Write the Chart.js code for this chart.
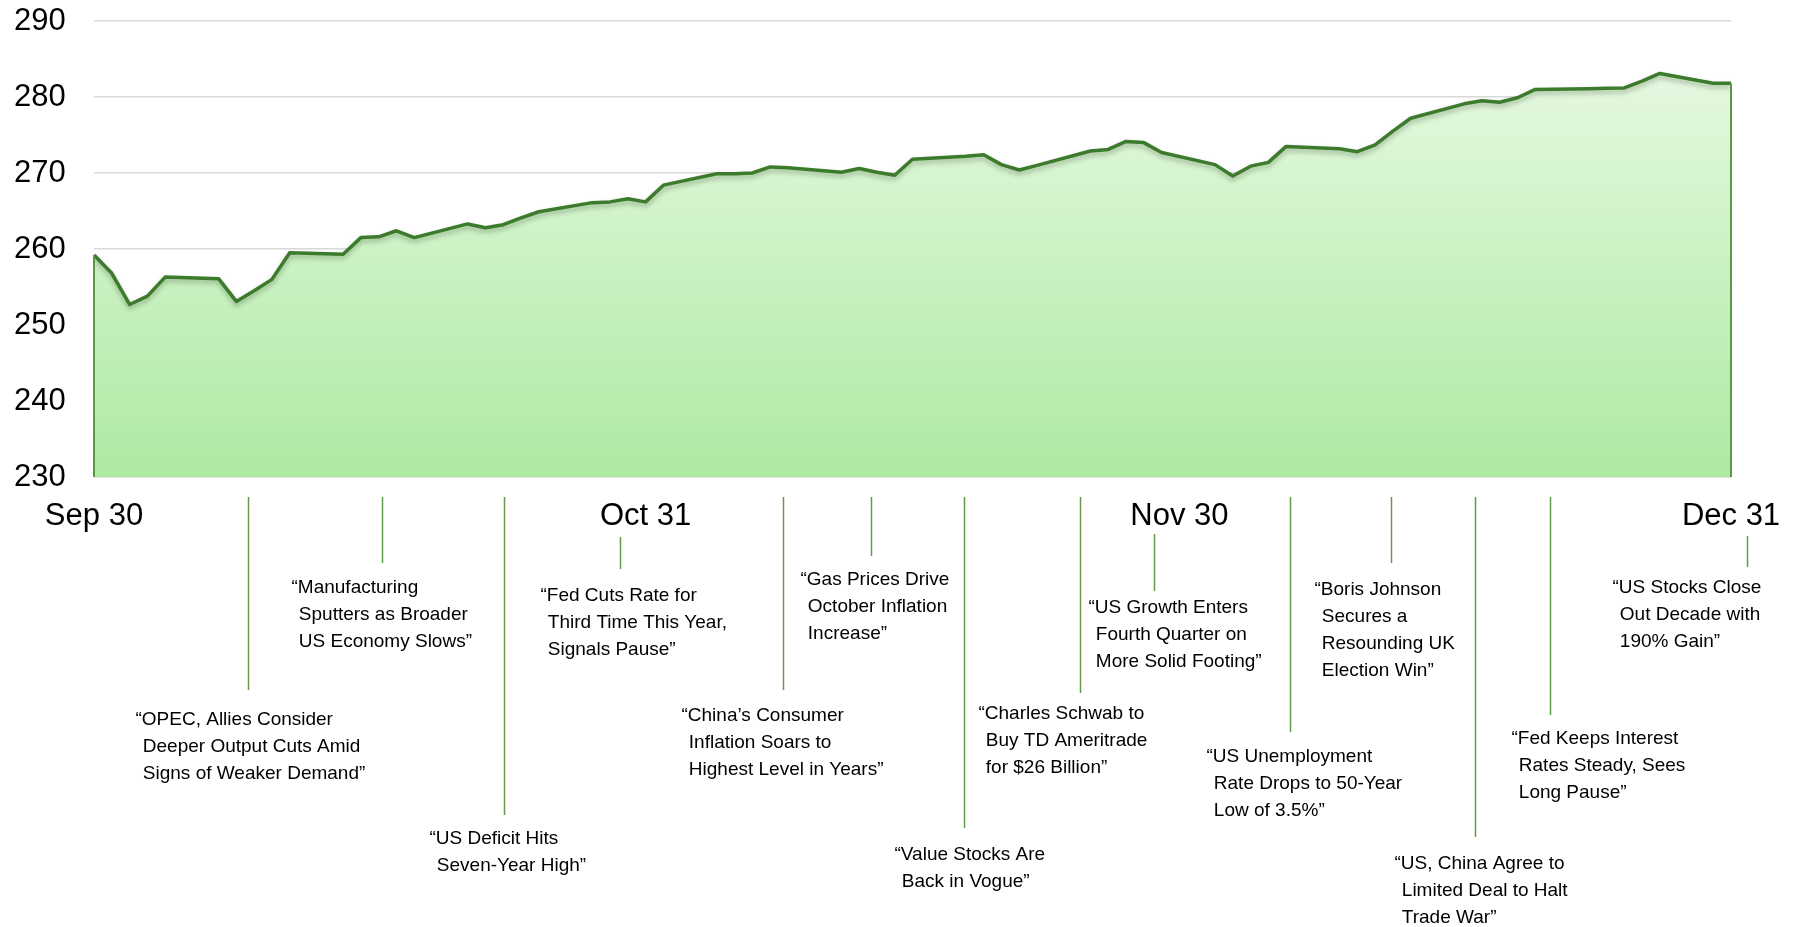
<!DOCTYPE html>
<html>
<head>
<meta charset="utf-8">
<title>Q4 2019 headlines</title>
<script src="https://cdn.jsdelivr.net/npm/chart.js@4.4.1/dist/chart.umd.min.js"></script>
<style>
  html, body { margin: 0; padding: 0; background: #fff; }
  #chart { display: block; }
</style>
</head>
<body>
<canvas id="chart" width="1796" height="927"></canvas>
<script>
// * daily closes, Sep 30 - Dec 31 2019 (weekdays)
const dates = [
  "2019-09-30",
  "2019-10-01", "2019-10-02", "2019-10-03", "2019-10-04", "2019-10-07", "2019-10-08",
  "2019-10-09", "2019-10-10", "2019-10-11", "2019-10-14", "2019-10-15", "2019-10-16",
  "2019-10-17", "2019-10-18", "2019-10-21", "2019-10-22", "2019-10-23", "2019-10-24",
  "2019-10-25", "2019-10-28", "2019-10-29", "2019-10-30", "2019-10-31",
  "2019-11-01", "2019-11-04", "2019-11-05", "2019-11-06", "2019-11-07", "2019-11-08",
  "2019-11-11", "2019-11-12", "2019-11-13", "2019-11-14", "2019-11-15", "2019-11-18",
  "2019-11-19", "2019-11-20", "2019-11-21", "2019-11-22", "2019-11-25", "2019-11-26",
  "2019-11-27", "2019-11-28", "2019-11-29",
  "2019-12-02", "2019-12-03", "2019-12-04", "2019-12-05", "2019-12-06", "2019-12-09",
  "2019-12-10", "2019-12-11", "2019-12-12", "2019-12-13", "2019-12-16", "2019-12-17",
  "2019-12-18", "2019-12-19", "2019-12-20", "2019-12-23", "2019-12-24", "2019-12-25",
  "2019-12-26", "2019-12-27", "2019-12-30", "2019-12-31",
];
const closes = [
  259.2,
  256.8, 252.7, 253.8, 256.3, 256.1, 253.1,
  254.5, 256.0, 259.5, 259.3, 261.5, 261.6,
  262.4, 261.5, 263.3, 262.8, 263.2, 264.1,
  264.9, 266.1, 266.2, 266.6, 266.2,
  268.4, 269.9, 269.9, 270.0, 270.8, 270.7,
  270.1, 270.6, 270.1, 269.7, 271.8, 272.2,
  272.4, 271.1, 270.4, 271.0, 272.9, 273.1,
  274.15, 274.0, 272.7,
  271.1, 269.6, 270.9, 271.4, 273.5, 273.2,
  272.8, 273.7, 275.5, 277.2, 279.1, 279.5,
  279.3, 279.9, 281.0, 281.1, 281.15, 281.2,
  282.1, 283.1, 281.8, 281.8,
];
const tickDates = ["2019-09-30", "2019-10-31", "2019-11-30", "2019-12-31"];
const tickLabels = ["Sep 30", "Oct 31", "Nov 30", "Dec 31"];
const yMin = 230;
const yMax = 290;
const yStep = 10;

// ? headlines, one entry per callout
const headlines = [
  ["\u201cOPEC, Allies Consider", "Deeper Output Cuts Amid", "Signs of Weaker Demand\u201d"],
  ["\u201cManufacturing", "Sputters as Broader", "US Economy Slows\u201d"],
  ["\u201cUS Deficit Hits", "Seven-Year High\u201d"],
  ["\u201cFed Cuts Rate for", "Third Time This Year,", "Signals Pause\u201d"],
  ["\u201cChina\u2019s Consumer", "Inflation Soars to", "Highest Level in Years\u201d"],
  ["\u201cGas Prices Drive", "October Inflation", "Increase\u201d"],
  ["\u201cValue Stocks Are", "Back in Vogue\u201d"],
  ["\u201cCharles Schwab to", "Buy TD Ameritrade", "for $26 Billion\u201d"],
  ["\u201cUS Growth Enters", "Fourth Quarter on", "More Solid Footing\u201d"],
  ["\u201cUS Unemployment", "Rate Drops to 50-Year", "Low of 3.5%\u201d"],
  ["\u201cBoris Johnson", "Secures a", "Resounding UK", "Election Win\u201d"],
  ["\u201cUS, China Agree to", "Limited Deal to Halt", "Trade War\u201d"],
  ["\u201cFed Keeps Interest", "Rates Steady, Sees", "Long Pause\u201d"],
  ["\u201cUS Stocks Close", "Out Decade with", "190% Gain\u201d"],
];

// layout of the callouts: x in days after Sep 30, leader line top/bottom, first text line, text offset
const callouts = [
  { day: 8.67, top: 497, bottom: 690, textY: 720, dx: -113 },
  { day: 16.18, top: 497, bottom: 563, textY: 588, dx: -91 },
  { day: 23.06, top: 497, bottom: 815, textY: 839, dx: -75 },
  { day: 29.56, top: 537, bottom: 569, textY: 596, dx: -80 },
  { day: 38.7, top: 497, bottom: 690, textY: 716, dx: -102 },
  { day: 43.68, top: 497, bottom: 556, textY: 580, dx: -71 },
  { day: 48.9, top: 497, bottom: 828, textY: 855, dx: -70 },
  { day: 55.4, top: 497, bottom: 693, textY: 714, dx: -102 },
  { day: 59.6, top: 534, bottom: 591, textY: 608, dx: -66 },
  { day: 67.2, top: 497, bottom: 732, textY: 757, dx: -84 },
  { day: 72.9, top: 497, bottom: 563, textY: 590, dx: -77 },
  { day: 77.6, top: 497, bottom: 837, textY: 864, dx: -81 },
  { day: 81.8, top: 497, bottom: 715, textY: 739, dx: -39 },
  { day: 92.9, top: 536, bottom: 567, textY: 588, dx: -135 },
];

const FONT = "'Liberation Sans', Arial, sans-serif";
const dayMs = 86400000;
const startMs = Date.parse(dates[0]);
const toDay = (d) => Math.round((Date.parse(d) - startMs) / dayMs);

const points = dates.map((d, i) => ({ x: toDay(d), y: closes[i] }));
const tickDays = tickDates.map(toDay);

// ? shadow under the line only
const lineShadow = {
  id: "lineShadow",
  beforeDatasetDraw(chart) {
    const c = chart.ctx;
    c.save();
    c.shadowColor = "rgba(40, 60, 30, 0.35)";
    c.shadowBlur = 5;
    c.shadowOffsetY = 3;
  },
  afterDatasetDraw(chart) {
    chart.ctx.restore();
  },
};

const edges = {
  id: "edges",
  afterDatasetsDraw(chart) {
    const c = chart.ctx;
    const xs = chart.scales.x;
    const ys = chart.scales.y;
    const base = ys.getPixelForValue(yMin);
    c.save();
    c.strokeStyle = "#5a9a45";
    c.lineWidth = 2;
    [points[0], points[points.length - 1]].forEach((p) => {
      const px = Math.round(xs.getPixelForValue(p.x));
      c.beginPath();
      c.moveTo(px, ys.getPixelForValue(p.y));
      c.lineTo(px, base);
      c.stroke();
    });
    c.restore();
  },
};

const headlineCallouts = {
  id: "headlineCallouts",
  afterDraw(chart) {
    const c = chart.ctx;
    const xs = chart.scales.x;
    c.save();
    c.font = "19px " + FONT;
    c.fillStyle = "#000";
    c.textBaseline = "middle";
    c.textAlign = "left";
    const indent = c.measureText("\u201c").width + 1;
    callouts.forEach((co, i) => {
      const px = Math.round(xs.getPixelForValue(co.day)) + 0.5;
      c.strokeStyle = "#5d9c48";
      c.lineWidth = 1.5;
      c.beginPath();
      c.moveTo(px, co.top);
      c.lineTo(px, co.bottom);
      c.stroke();
      headlines[i].forEach((t, k) => {
        c.fillText(t, px + co.dx + (k > 0 ? indent : 0), co.textY + k * 26.8);
      });
    });
    c.restore();
  },
};

const canvas = document.getElementById("chart");
const chart = new Chart(canvas.getContext("2d"), {
  type: "line",
  data: {
    datasets: [
      {
        data: points,
        borderColor: "#3b7b2b",
        borderWidth: 3.5,
        borderJoinStyle: "round",
        pointRadius: 0,
        tension: 0,
        fill: "start",
        backgroundColor: (ctx) => {
          const area = ctx.chart.chartArea;
          if (!area) return "#c8f0c0";
          const g = ctx.chart.ctx.createLinearGradient(0, area.top, 0, area.bottom);
          g.addColorStop(0, "#ecfae8");
          g.addColorStop(1, "#adeaa2");
          return g;
        },
      },
    ],
  },
  options: {
    responsive: false,
    animation: false,
    devicePixelRatio: 1,
    layout: { padding: { top: 21, right: 65, left: 14, bottom: 0 } },
    plugins: {
      legend: { display: false },
      tooltip: { enabled: false },
    },
    scales: {
      x: {
        type: "linear",
        min: tickDays[0],
        max: tickDays[tickDays.length - 1],
        grid: { display: false, drawTicks: false },
        border: { display: false },
        afterBuildTicks: (s) => {
          s.ticks = tickDays.map((v) => ({ value: v }));
        },
        afterFit: (s) => {
          s.height = 450;
          // labels may hang past the plot edges
          s.paddingLeft = 0;
          s.paddingRight = 0;
        },
        ticks: {
          autoSkip: false,
          maxRotation: 0,
          padding: 21,
          color: "#000",
          font: { family: FONT, size: 31 },
          callback: (v) => tickLabels[tickDays.indexOf(v)],
        },
      },
      y: {
        min: yMin,
        max: yMax,
        grid: {
          drawTicks: false,
          lineWidth: 1.5,
          color: (ctx) => (ctx.tick && ctx.tick.value === yMin ? "#c4c4c4" : "#d9d9d9"),
        },
        border: { display: false },
        afterFit: (s) => {
          s.width = 80;
        },
        ticks: {
          stepSize: yStep,
          padding: 0,
          crossAlign: "far",
          color: "#000",
          font: { family: FONT, size: 31 },
        },
      },
    },
  },
  plugins: [lineShadow, edges, headlineCallouts],
});
</script>
</body>
</html>
